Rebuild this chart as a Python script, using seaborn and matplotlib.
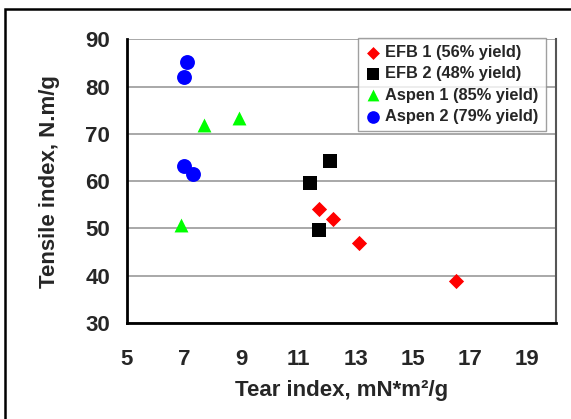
import matplotlib
matplotlib.use('Agg')
import matplotlib.pyplot as plt
import matplotlib.patches as patches
from matplotlib.ticker import MultipleLocator
import pandas as pd
import seaborn as sns

# data
efb1_tear = [11.7, 12.2, 13.1, 16.5]
efb1_tensile = [54.1, 52.1, 47.0, 38.8]

efb2_tear = [12.1, 11.4, 11.7]
efb2_tensile = [64.2, 59.6, 49.6]

aspen1_tear = [7.7, 8.9, 6.9]
aspen1_tensile = [71.8, 73.3, 50.7]

aspen2_tear = [7.1, 7.0, 7.0, 7.3]
aspen2_tensile = [85.1, 82.1, 63.3, 61.6]

series_names = ['EFB 1 (56% yield)', 'EFB 2 (48% yield)',
                'Aspen 1 (85% yield)', 'Aspen 2 (79% yield)']
series_colors = ['#FF0000', '#000000', '#00FF00', '#0000FF']
series_markers = ['D', 's', '^', 'o']
series_sizes = [60, 100, 100, 115]

x_ticks = [5, 7, 9, 11, 13, 15, 17, 19]
y_ticks = [30, 40, 50, 60, 70, 80, 90]


def build_frame():
    xs = [efb1_tear, efb2_tear, aspen1_tear, aspen2_tear]
    ys = [efb1_tensile, efb2_tensile, aspen1_tensile, aspen2_tensile]
    rows = []
    for name, xv, yv in zip(series_names, xs, ys):
        for a, b in zip(xv, yv):
            rows.append({'Tear': a, 'Tensile': b, 'Series': name})
    return pd.DataFrame(rows)


def main():
    sns.set_style('white')
    plt.rcParams['font.family'] = ['Liberation Sans', 'DejaVu Sans']
    plt.rcParams['font.weight'] = 'bold'

    df = build_frame()

    fig = plt.figure(figsize=(5.71, 4.19), dpi=100)
    ax = fig.add_axes([0.2224, 0.2291, 0.7513, 0.6771])

    ax.yaxis.grid(True, color='#999999', linewidth=1.2)
    ax.set_axisbelow(True)

    for name, col, mk, sz in zip(series_names, series_colors, series_markers, series_sizes):
        sns.scatterplot(data=df[df['Series'] == name], x='Tear', y='Tensile',
                        color=col, marker=mk, s=sz, edgecolor=col,
                        linewidth=0, label=name, ax=ax, zorder=3)

    ax.set_xlim(5, 20)
    ax.set_ylim(30, 90)
    ax.set_xticks(x_ticks)
    ax.set_yticks(y_ticks)
    ax.xaxis.set_minor_locator(MultipleLocator(1))
    ax.yaxis.set_minor_locator(MultipleLocator(5))
    ax.tick_params(axis='both', which='major', direction='in', length=4,
                   width=1.5, labelsize=16, color='black')
    ax.tick_params(axis='both', which='minor', direction='in', length=4,
                   width=1.5, color='black')
    ax.tick_params(axis='x', which='major', pad=19)
    ax.tick_params(axis='y', which='major', pad=12)
    for lab in ax.get_xticklabels() + ax.get_yticklabels():
        lab.set_fontweight('bold')

    ax.set_xlabel('Tear index, mN*m²/g', fontsize=16, fontweight='bold', labelpad=7)
    ax.set_ylabel('Tensile index, N.m/g', fontsize=16, fontweight='bold', labelpad=18)

    ax.spines['top'].set_visible(False)
    ax.spines['left'].set_color('black')
    ax.spines['bottom'].set_color('black')
    ax.spines['left'].set_linewidth(2)
    ax.spines['bottom'].set_linewidth(2)
    ax.spines['right'].set_color('#555555')
    ax.spines['right'].set_linewidth(1.5)

    leg = ax.legend(loc='upper right', bbox_to_anchor=(0.977, 1.005),
                    borderaxespad=0, frameon=True, fancybox=False,
                    prop={'weight': 'bold', 'size': 11.8},
                    handletextpad=0.25, labelspacing=0.38, borderpad=0.45,
                    handlelength=1.0, markerscale=0.85)
    leg.get_frame().set_edgecolor('#888888')
    leg.get_frame().set_linewidth(1.0)

    # frame around the figure (only left and top edges visible in the crop)
    fig.add_artist(patches.Rectangle((5 / 571, -0.5), 2, 0.5 + (1 - 9 / 419),
                                     transform=fig.transFigure, fill=False,
                                     edgecolor='black', linewidth=1.8))

    fig.savefig('out.png', dpi=100)


if __name__ == "__main__":
    main()
